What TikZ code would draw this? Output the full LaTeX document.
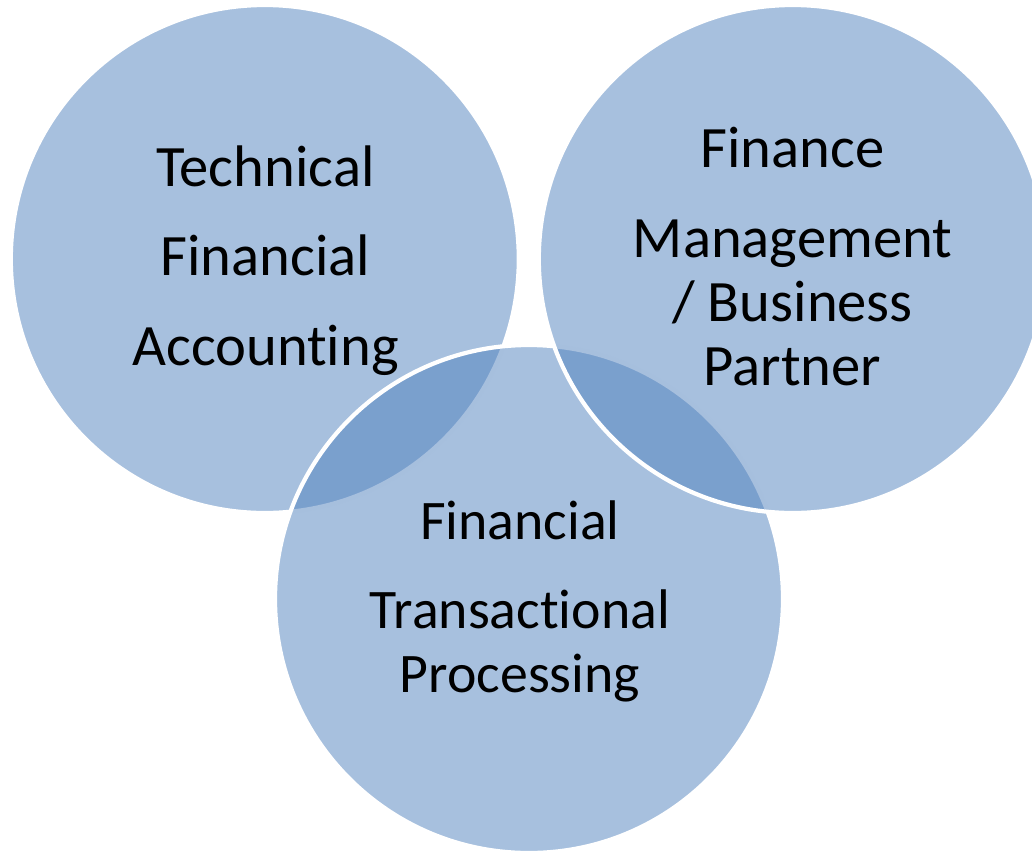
\documentclass[tikz,border=0pt]{standalone}
\usepackage{fontspec}
\setmainfont{Carlito}[Ligatures=CommonOff]
\usepackage{tikz}
\usetikzlibrary{positioning}
\definecolor{accent}{HTML}{4F81BD}

\begin{document}
\begin{tikzpicture}[
venn/.style = {circle, draw=white, line width=3pt, fill=accent, fill opacity=0.5, minimum size=12.7cm, inner sep=0pt},
txt/.style={align=center, anchor=base, font=\fontsize{41.7}{45.5}\selectfont}]
\useasboundingbox (0,0) rectangle (25.8,-21.325);
\node[venn] (tech) at (6.62,-6.475) {};
\node[venn] (trans) at (13.225,-14.975) {};
\node[venn] (mgmt) at (19.82,-6.475) {};

% anchor=base sits on the last line
\node[txt] (techtxt) at (6.6375,-9.125) {Technical\\[18pt] Financial\\[18pt] Accounting};
\node[txt] (mgmttxt) at (19.8125,-9.625) {Finance\\[18.5pt] Management\\ / Business\\ Partner};
\node[txt, font=\fontsize{39.7}{45.5}\selectfont] (transtxt) at (13.0,-17.3) {Financial\\[17.5pt] Transactional\\ Processing};
\end{tikzpicture}
\end{document}
